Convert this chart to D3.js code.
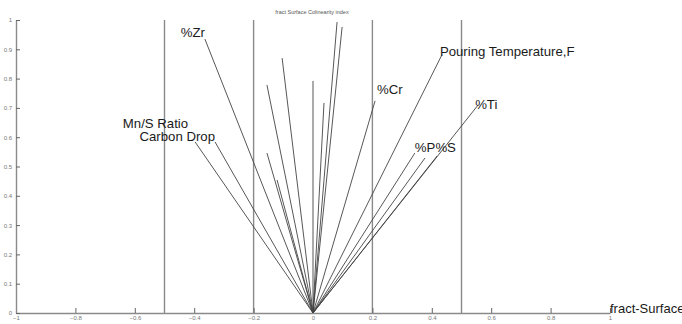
<!DOCTYPE html>
<html>
<head>
<meta charset="utf-8">
<script src="https://cdn.jsdelivr.net/npm/d3@7"></script>
<style>
  html, body { margin: 0; padding: 0; background: #fff; }
  svg { display: block; font-family: "Liberation Sans", Arial, sans-serif; }
</style>
</head>
<body>
<svg id="chart" width="682" height="324"></svg>
<script>
// ---- data ----
const chartTitle = "fract Surface Colinearity index";
const xAxisLabel = "fract-Surface Colinearity index";
const variableNames = ["%Zr", "Mn/S Ratio", "Carbon Drop", "", "", "", "", "", "", "", "", "%Cr", "Pouring Temperature,F", "%P%S", "", "", "%Ti"];
const loadingX = [-0.364, -0.397, -0.330, -0.104, -0.155, -0.155, -0.121, 0.000, 0.081, 0.098, 0.037, 0.209, 0.434, 0.343, 0.377, 0.418, 0.556];
const loadingY = [0.935, 0.584, 0.584, 0.870, 0.778, 0.546, 0.454, 0.792, 0.993, 0.976, 0.717, 0.724, 0.881, 0.546, 0.529, 0.536, 0.710];
const thresholds = [-0.5, -0.2, 0.2, 0.5];
const xTicks = [-1, -0.8, -0.6, -0.4, -0.2, 0, 0.2, 0.4, 0.6, 0.8, 1];
const yTicks = [0, 0.1, 0.2, 0.3, 0.4, 0.5, 0.6, 0.7, 0.8, 0.9, 1];

// ---- layout ----
const svg = d3.select("#chart");
const x = d3.scaleLinear().domain([-1, 1]).range([16, 610]);
const y = d3.scaleLinear().domain([0, 1]).range([313, 20]);

// threshold vertical lines
svg.append("g").selectAll("line").data(thresholds).join("line")
  .attr("x1", d => x(d)).attr("x2", d => x(d))
  .attr("y1", y(0)).attr("y2", y(1))
  .attr("stroke", "#8a8a8a").attr("stroke-width", 1.4);

// axes
const xAxis = d3.axisBottom(x).tickValues(xTicks).tickSizeInner(-5).tickSizeOuter(0).tickPadding(3)
  .tickFormat(d => d3.format("")(d));
const yAxis = d3.axisLeft(y).tickValues(yTicks).tickSizeInner(-4).tickSizeOuter(0).tickPadding(4)
  .tickFormat(d => d3.format("")(d));

const gx = svg.append("g").attr("transform", `translate(0,${y(0)})`).call(xAxis);
const gy = svg.append("g").attr("transform", `translate(${x(-1)},0)`).call(yAxis);
[gx, gy].forEach(g => {
  g.select(".domain").attr("stroke", "#8a8a8a").attr("stroke-width", 1.4);
  g.selectAll(".tick line").attr("stroke", "#666").attr("stroke-width", 1);
  g.selectAll(".tick text").attr("fill", "#777").attr("font-size", 6).attr("font-family", "Liberation Sans, Arial, sans-serif");
});

// loading vectors
const idx = d3.range(loadingX.length);
svg.append("g").selectAll("line").data(idx).join("line")
  .attr("x1", x(0)).attr("y1", y(0))
  .attr("x2", i => x(loadingX[i])).attr("y2", i => y(loadingY[i]))
  .attr("stroke", "#444").attr("stroke-width", 0.9);

// labels at vector tips
const labelStyle = {
  "%Zr": {anchor: "end", dx: 0, dy: -2},
  "Mn/S Ratio": {anchor: "end", dx: -7, dy: -14},
  "Carbon Drop": {anchor: "end", dx: 0, dy: -1},
  "%Cr": {anchor: "start", dx: 2, dy: -7},
  "Pouring Temperature,F": {anchor: "start", dx: -2, dy: 1},
  "%P%S": {anchor: "start", dx: 0, dy: -1},
  "%Ti": {anchor: "start", dx: -3, dy: 4}
};
svg.append("g").selectAll("text").data(idx.filter(i => variableNames[i])).join("text")
  .attr("x", i => x(loadingX[i]) + labelStyle[variableNames[i]].dx)
  .attr("y", i => y(loadingY[i]) + labelStyle[variableNames[i]].dy)
  .attr("text-anchor", i => labelStyle[variableNames[i]].anchor)
  .attr("font-size", 13.2).attr("fill", "#1a1a1a")
  .text(i => variableNames[i]);

// title
svg.append("text").attr("x", 312).attr("y", 14).attr("text-anchor", "middle")
  .attr("font-size", 5.5).attr("fill", "#555").text(chartTitle);

// x axis label (clipped at right edge, as in the original)
svg.append("text").attr("x", x(1)).attr("y", 313).attr("font-size", 13).attr("fill", "#1a1a1a")
  .text(xAxisLabel);
</script>
</body>
</html>
